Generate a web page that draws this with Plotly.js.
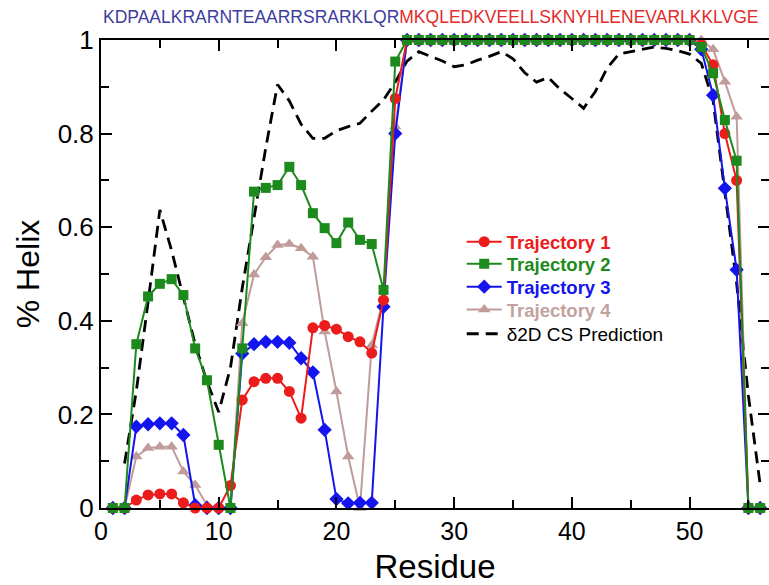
<!DOCTYPE html>
<html>
<head>
<meta charset="utf-8">
<script src="https://cdn.plot.ly/plotly-3.0.1.min.js"></script>
<style>html,body{margin:0;padding:0;background:#fff;}#chart{width:769px;height:585px;}</style>
</head>
<body>
<div id="chart"></div>
<script>
const residues = [1,2,3,4,5,6,7,8,9,10,11,12,13,14,15,16,17,18,19,20,21,22,23,24,25,26,27,28,29,30,31,32,33,34,35,36,37,38,39,40,41,42,43,44,45,46,47,48,49,50,51,52,53,54,55,56];

const traj1 = [0,0,0.017,0.028,0.03,0.03,0.011,0,0,0,0.048,0.231,0.27,0.277,0.277,0.249,0.192,0.385,0.39,0.382,0.366,0.355,0.331,0.444,0.875,
  1,1,1,1,1,1,1,1,1,1,1,1,1,1,1,1,1,1,1,1,1,1,1,1,1,
  0.99,0.947,0.80,0.70,0,0];
const traj2 = [0,0,0.35,0.452,0.479,0.489,0.455,0.341,0.273,0.135,0,0.341,0.676,0.684,0.69,0.729,0.69,0.63,0.598,0.566,0.61,0.573,0.564,0.466,0.954,
  1,1,1,1,1,1,1,1,1,1,1,1,1,1,1,1,1,1,1,1,1,1,1,1,1,
  0.985,0.929,0.829,0.742,0,0];
const traj3 = [0,0,0.174,0.179,0.181,0.181,0.156,0.006,0,0,0,0.33,0.35,0.355,0.355,0.353,0.32,0.29,0.167,0.019,0.01,0.011,0.011,0.43,0.80,
  1,1,1,1,1,1,1,1,1,1,1,1,1,1,1,1,1,1,1,1,1,1,1,1,1,
  0.98,0.882,0.683,0.509,0,0];
const traj4 = [0,0,0.11,0.128,0.131,0.131,0.078,0.049,0.006,0,0,0.395,0.499,0.536,0.562,0.564,0.555,0.537,0.377,0.249,0.11,0,0.348,0.45,0.815,
  1,1,1,1,1,1,1,1,1,1,1,1,1,1,1,1,1,1,1,1,1,1,1,1,1,
  1.0,0.98,0.911,0.836,0,0];
const prediction = [null,0.095,0.25,0.44,0.637,0.55,0.45,0.35,0.27,0.205,0.3,0.47,0.62,0.77,0.905,0.87,0.82,0.79,0.79,0.806,0.815,0.822,0.848,0.872,0.91,
  0.955,0.975,0.965,0.955,0.943,0.947,0.957,0.965,0.975,0.96,0.93,0.91,0.92,0.895,0.875,0.854,0.89,0.94,0.97,0.975,0.98,0.985,0.982,0.977,0.97,
  0.95,0.87,0.67,0.48,0.24,0.05];

const seriesNames = ["Trajectory 1","Trajectory 2","Trajectory 3","Trajectory 4","δ2D CS Prediction"];
const seqN = "KDPAALKRARNTEAARRSRARKLQR";
const seqC = "MKQLEDKVEELLSKNYHLENEVARLKKLVGE";
const xTickVals = [0,10,20,30,40,50];
const yTickVals = [0,0.2,0.4,0.6,0.8,1];

const FONT = "Liberation Sans, Arial, Helvetica, sans-serif";
const cRed = "#ec1c1c", cGreen = "#1c8a1c", cBlue = "#1414ee", cBrown = "#bf9c9a";

function traj(y, name, color, symbol, size, legendId, textColor) {
  return {
    x: residues, y: y, type: "scatter", mode: "lines+markers",
    name: '<b><span style="color:' + textColor + '">' + name + '</span></b>',
    line: {color: color, width: 2},
    marker: {color: color, symbol: symbol, size: size, line: {width: 0}},
    cliponaxis: false, legend: legendId
  };
}

const data = [
  {x: residues, y: prediction, type: "scatter", mode: "lines",
   name: seriesNames[4],
   line: {color: "#000", width: 2.8, dash: "12px,7px"}, cliponaxis: false, legend: "legend5"},
  traj(traj4, seriesNames[3], cBrown, "triangle-up", 11, "legend4", "#c2a2a0"),
  traj(traj3, seriesNames[2], cBlue, "diamond", 11, "legend3", cBlue),
  traj(traj1, seriesNames[0], cRed, "circle", 11, "legend", cRed),
  traj(traj2, seriesNames[1], cGreen, "square", 10, "legend2", cGreen)
];

function leg(yc, size) {
  return {x: 0.54, y: yc, xanchor: "left", yanchor: "middle", bgcolor: "rgba(0,0,0,0)",
          itemwidth: 35, font: {family: FONT, size: size, color: "#000"}};
}

const layout = {
  width: 769, height: 585,
  margin: {l: 101, r: 0, t: 40, b: 77},
  paper_bgcolor: "#fff", plot_bgcolor: "#fff",
  font: {family: FONT, color: "#000"},
  showlegend: true,
  legend: leg(0.568, 18.5),
  legend2: leg(0.521, 18.5),
  legend3: leg(0.472, 18.5),
  legend4: leg(0.423, 18.5),
  legend5: leg(0.372, 19),
  xaxis: {
    range: [0, 56.75], tickvals: xTickVals, ticks: "inside", ticklen: 11, tickwidth: 2, tickcolor: "#000",
    minor: {dtick: 5, tick0: 0, ticks: "inside", ticklen: 8, tickwidth: 2, tickcolor: "#000"},
    showline: true, linecolor: "#000", linewidth: 2, mirror: "ticks", showgrid: false, zeroline: false,
    tickfont: {family: FONT, size: 25, color: "#000"},
    title: {text: "Residue", font: {family: FONT, size: 33, color: "#000"}, standoff: 14}
  },
  yaxis: {
    range: [0, 1], tickvals: yTickVals, ticks: "inside", ticklen: 11, tickwidth: 2, tickcolor: "#000",
    minor: {dtick: 0.1, tick0: 0, ticks: "inside", ticklen: 8, tickwidth: 2, tickcolor: "#000"},
    showline: true, linecolor: "#000", linewidth: 2, mirror: "ticks", showgrid: false, zeroline: false,
    tickfont: {family: FONT, size: 26, color: "#000"},
    title: {text: "% Helix", font: {family: FONT, size: 32, color: "#000"}, standoff: 8}
  },
  annotations: [{
    xref: "x", yref: "paper", x: 0, y: 1.049, xanchor: "left", yanchor: "middle", showarrow: false,
    text: '<span style="color:#3d3d9e">' + seqN + '</span><span style="color:#e32b2b">' + seqC + '</span>',
    font: {family: FONT, size: 17.5}
  }]
};

Plotly.newPlot("chart", data, layout, {displayModeBar: false, staticPlot: true});
</script>
</body>
</html>
